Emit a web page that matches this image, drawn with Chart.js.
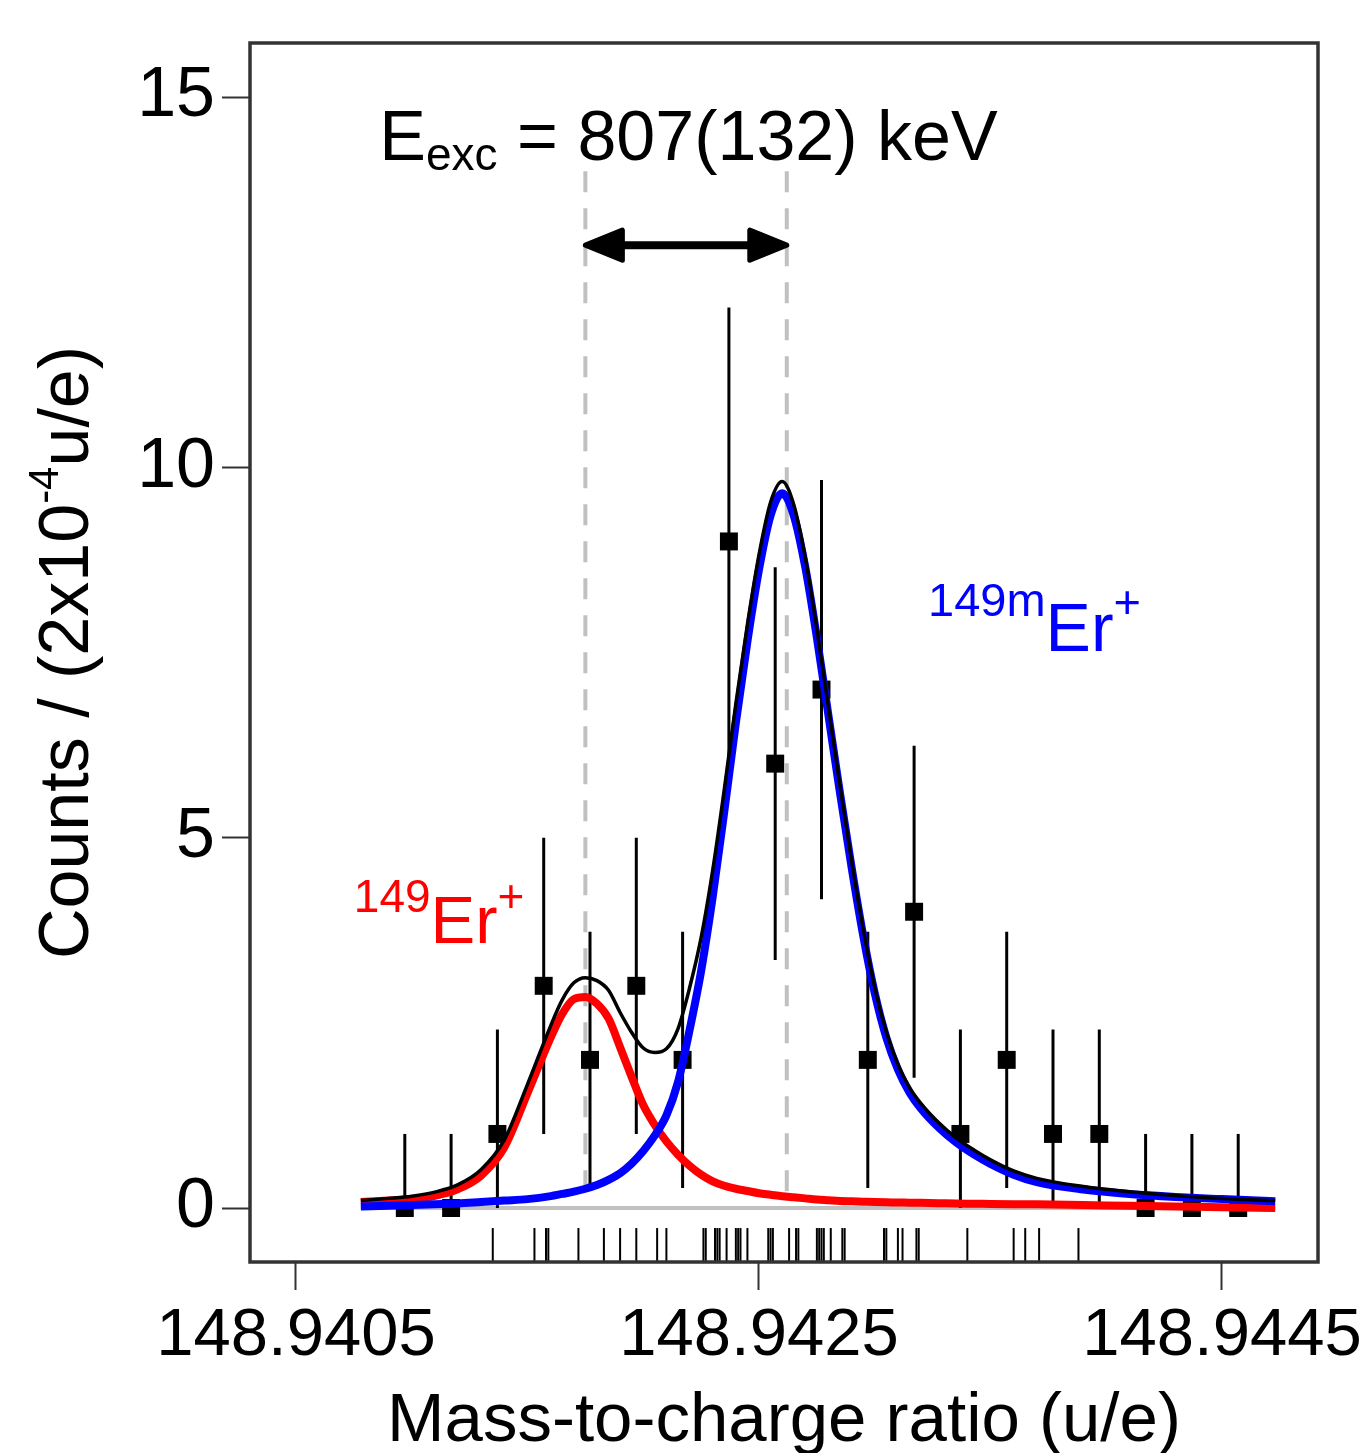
<!DOCTYPE html>
<html>
<head>
<meta charset="utf-8">
<title>149Er+ / 149mEr+</title>
<script src="https://cdn.jsdelivr.net/npm/chart.js@4.4.1/dist/chart.umd.min.js"></script>
<style>
  html, body { margin: 0; padding: 0; background: #fff; }
  #espectro { display: block; }
</style>
</head>
<body>
<canvas id="espectro" width="1371" height="1453"></canvas>
<script>
// --- axis ticks ---
const xTicks = [148.9405, 148.9425, 148.9445];
const yTicks = [0, 5, 10, 15];

// --- histogram (2x10^-4 u/e bins) ---
const binCenters = [148.94097, 148.94117, 148.94137, 148.94157, 148.94177, 148.94197, 148.94217,
                    148.94237, 148.94257, 148.94277, 148.94297, 148.94317, 148.94337, 148.94357,
                    148.94377, 148.94397, 148.94417, 148.94437, 148.94457];
const counts  = [0, 0, 1, 3, 2, 3, 2, 9, 6, 7, 2, 4, 1, 2, 1, 1, 0, 0, 0];
const errUp   = [1, 1, 1.41, 2, 1.73, 2, 1.73, 3.16, 2.65, 2.83, 1.73, 2.24, 1.41, 1.73, 1.41, 1.41, 1, 1, 1];
const errDown = [0, 0, 1, 2, 1.73, 2, 1.73, 3.16, 2.65, 2.83, 1.73, 2.24, 1, 1.73, 1, 1, 0, 0, 0];

// --- fit curves ---
const fitX = [148.94078, 148.94090, 148.94100, 148.94110, 148.94120, 148.94130, 148.94140, 148.94150,
              148.94160, 148.94165, 148.94170, 148.94175, 148.94180, 148.94185, 148.94190, 148.94195,
              148.94200, 148.94205, 148.94210, 148.94215, 148.94220, 148.94225, 148.94230, 148.94235,
              148.94240, 148.94245, 148.94250, 148.94255, 148.94260, 148.94265, 148.94270, 148.94275,
              148.94280, 148.94285, 148.94290, 148.94295, 148.94300, 148.94305, 148.94310, 148.94315,
              148.94320, 148.94328, 148.94335, 148.94343, 148.94350, 148.94360, 148.94370, 148.94390,
              148.94410, 148.94430, 148.94450, 148.94473];
const fitGround = [0.08, 0.10, 0.12, 0.165, 0.255, 0.44, 0.82, 1.55,
                   2.30, 2.62, 2.82, 2.85, 2.76, 2.56, 2.17, 1.77,
                   1.39, 1.12, 0.90, 0.72, 0.57, 0.45, 0.36, 0.30,
                   0.26, 0.23, 0.20, 0.18, 0.16, 0.145, 0.13, 0.115,
                   0.105, 0.095, 0.09, 0.085, 0.08, 0.077, 0.075, 0.072,
                   0.07, 0.065, 0.06, 0.058, 0.055, 0.052, 0.05, 0.04,
                   0.03, 0.02, 0.01, 0.0];
const fitIsomer = [0.02, 0.03, 0.04, 0.05, 0.06, 0.08, 0.10, 0.12,
                   0.16, 0.19, 0.22, 0.26, 0.31, 0.38, 0.47, 0.60,
                   0.77, 0.98, 1.25, 1.70, 2.40, 3.20, 4.20, 5.35,
                   6.55, 7.65, 8.62, 9.35, 9.65, 9.35, 8.65, 7.70,
                   6.65, 5.60, 4.60, 3.68, 2.90, 2.30, 1.87, 1.56,
                   1.34, 1.075, 0.89, 0.72, 0.595, 0.45, 0.35, 0.25,
                   0.19, 0.15, 0.12, 0.09];
const fitTotal = [0.10, 0.13, 0.16, 0.215, 0.315, 0.52, 0.92, 1.67,
                  2.46, 2.81, 3.04, 3.11, 3.07, 2.94, 2.64, 2.37,
                  2.16, 2.10, 2.15, 2.42, 2.97, 3.65, 4.56, 5.65,
                  6.81, 7.88, 8.82, 9.53, 9.81, 9.50, 8.78, 7.82,
                  6.76, 5.70, 4.69, 3.77, 2.98, 2.38, 1.94, 1.63,
                  1.41, 1.14, 0.95, 0.78, 0.65, 0.50, 0.40, 0.29,
                  0.22, 0.17, 0.13, 0.10];

// --- single ion events (rug under the histogram) ---
const ionHits = [148.94135, 148.94153, 148.94158, 148.94159, 148.94172, 148.94183, 148.94190, 148.94197,
                 148.94206, 148.94210, 148.94226, 148.94227, 148.94231, 148.94232, 148.94233, 148.94236,
                 148.94240, 148.94241, 148.94242, 148.94245, 148.94254, 148.94255, 148.94256, 148.94263,
                 148.94266, 148.94267, 148.94275, 148.94276, 148.94277, 148.94278, 148.94281, 148.94286,
                 148.94287, 148.94304, 148.94305, 148.94310, 148.94312, 148.94318, 148.94319, 148.94340,
                 148.94360, 148.94365, 148.94371, 148.94388];

// --- centroids of both states ---
const centroids = [148.94175, 148.94262];
const centroidTop = 14;
const arrowLevel = 13;
const rugLevel = -0.5;

const FONT = '"Liberation Sans", Arial, Helvetica, sans-serif';

function pts(xs, ys) {
    return xs.map((v, i) => ({ x: v, y: ys[i] }));
}

// desenha pedaços de texto em sequência (para sobrescritos/subscritos)
function drawPieces(ctx, x0, y0, pieces) {
    let cx = x0;
    pieces.forEach(p => {
        ctx.font = `${p.size}px ${FONT}`;
        ctx.fillStyle = p.color || '#000';
        ctx.fillText(p.text, cx, y0 + (p.dy || 0));
        cx += ctx.measureText(p.text).width;
    });
}

function piecesWidth(ctx, pieces) {
    let w = 0;
    pieces.forEach(p => {
        ctx.font = `${p.size}px ${FONT}`;
        w += ctx.measureText(p.text).width;
    });
    return w;
}

function arrowHead(ctx, tipX, yy, dir) {
    const len = 37, half = 15;
    ctx.beginPath();
    ctx.moveTo(tipX, yy);
    ctx.lineTo(tipX + dir * len, yy - half);
    ctx.lineTo(tipX + dir * len, yy + half);
    ctx.closePath();
    ctx.fill();
    ctx.stroke();
}

const extras = {
    id: 'extras',
    beforeDatasetDraw(chart, args) {
        if (args.index !== 3) return;
        // barras de erro por baixo dos quadrados
        const { ctx, scales: { x, y } } = chart;
        ctx.save();
        ctx.strokeStyle = '#000';
        ctx.lineWidth = 3;
        binCenters.forEach((m, i) => {
            const px = x.getPixelForValue(m);
            ctx.beginPath();
            ctx.moveTo(px, y.getPixelForValue(counts[i] + errUp[i]));
            ctx.lineTo(px, y.getPixelForValue(counts[i] - errDown[i]));
            ctx.stroke();
        });
        ctx.restore();
    },
    afterDatasetsDraw(chart) {
        const { ctx, scales: { x, y } } = chart;
        ctx.save();

        // seta dupla entre os centroides
        const ax1 = x.getPixelForValue(centroids[0]);
        const ax2 = x.getPixelForValue(centroids[1]);
        const ay = y.getPixelForValue(arrowLevel);
        ctx.strokeStyle = '#000';
        ctx.fillStyle = '#000';
        ctx.lineWidth = 8;
        ctx.beginPath();
        ctx.moveTo(ax1 + 30, ay);
        ctx.lineTo(ax2 - 30, ay);
        ctx.stroke();
        ctx.lineWidth = 5;
        ctx.lineJoin = 'round';
        arrowHead(ctx, ax1, ay, 1);
        arrowHead(ctx, ax2, ay, -1);

        ctx.textBaseline = 'alphabetic';
        ctx.textAlign = 'left';

        // E_exc
        drawPieces(ctx, x.getPixelForValue(148.94086), y.getPixelForValue(14.15), [
            { text: 'E', size: 70 },
            { text: 'exc', size: 46, dy: 10 },
            { text: ' = 807(132) keV', size: 70 }
        ]);

        // rótulos dos estados
        drawPieces(ctx, x.getPixelForValue(148.94075), y.getPixelForValue(4.0), [
            { text: '149', size: 46, color: '#ff0000' },
            { text: 'Er', size: 67, dy: 31, color: '#ff0000' },
            { text: '+', size: 46, dy: 0, color: '#ff0000' }
        ]);
        drawPieces(ctx, x.getPixelForValue(148.94323), y.getPixelForValue(8.0), [
            { text: '149m', size: 47, color: '#0000ff' },
            { text: 'Er', size: 68, dy: 35, color: '#0000ff' },
            { text: '+', size: 47, dy: 2, color: '#0000ff' }
        ]);
        ctx.restore();
    },
    afterDraw(chart) {
        const { ctx, chartArea: a } = chart;
        ctx.save();
        // moldura
        ctx.strokeStyle = '#333';
        ctx.lineWidth = 3.5;
        ctx.strokeRect(a.left, a.top, a.right - a.left, a.bottom - a.top);

        // título do eixo x
        ctx.fillStyle = '#000';
        ctx.font = `69px ${FONT}`;
        ctx.textAlign = 'center';
        ctx.textBaseline = 'alphabetic';
        ctx.fillText('Mass-to-charge ratio (u/e)', (a.left + a.right) / 2, a.bottom + 179);

        // título do eixo y (girado)
        const yTitle = [
            { text: 'Counts / (2x10', size: 70 },
            { text: '-4', size: 42, dy: -30 },
            { text: 'u/e)', size: 70 }
        ];
        ctx.textAlign = 'left';
        ctx.translate(a.left - 162, (a.top + a.bottom) / 2);
        ctx.rotate(-Math.PI / 2);
        drawPieces(ctx, -piecesWidth(ctx, yTitle) / 2, 0, yTitle);
        ctx.restore();
    }
};

document.addEventListener('DOMContentLoaded', () => {
    const canvas = document.getElementById('espectro');

    new Chart(canvas, {
        type: 'scatter',
        data: {
            datasets: [
                {
                    label: 'total',
                    data: pts(fitX, fitTotal),
                    showLine: true,
                    borderColor: '#000',
                    borderWidth: 3.5,
                    pointRadius: 0,
                    cubicInterpolationMode: 'monotone'
                },
                {
                    label: '149mEr+',
                    data: pts(fitX, fitIsomer),
                    showLine: true,
                    borderColor: '#0000ff',
                    borderWidth: 8,
                    pointRadius: 0,
                    cubicInterpolationMode: 'monotone'
                },
                {
                    label: '149Er+',
                    data: pts(fitX, fitGround),
                    showLine: true,
                    borderColor: '#ff0000',
                    borderWidth: 8,
                    pointRadius: 0,
                    cubicInterpolationMode: 'monotone'
                },
                {
                    label: 'counts',
                    data: pts(binCenters, counts),
                    pointStyle: 'rect',
                    pointRadius: 12.7,
                    backgroundColor: '#000',
                    borderWidth: 0
                },
                {
                    label: 'ions',
                    data: ionHits.map(m => ({ x: m, y: rugLevel })),
                    pointStyle: 'line',
                    rotation: 90,
                    pointRadius: 17,
                    borderColor: '#000',
                    borderWidth: 2
                },
                {
                    label: 'zero',
                    data: [{ x: fitX[0], y: 0 }, { x: fitX[fitX.length - 1], y: 0 }],
                    showLine: true,
                    borderColor: '#c0c0c0',
                    borderWidth: 4,
                    pointRadius: 0
                },
                {
                    label: 'centroid 1',
                    data: [{ x: centroids[0], y: centroidTop }, { x: centroids[0], y: 0 }],
                    showLine: true,
                    borderColor: '#c0c0c0',
                    borderWidth: 4,
                    borderDash: [21, 16],
                    pointRadius: 0
                },
                {
                    label: 'centroid 2',
                    data: [{ x: centroids[1], y: centroidTop }, { x: centroids[1], y: 0 }],
                    showLine: true,
                    borderColor: '#c0c0c0',
                    borderWidth: 4,
                    borderDash: [21, 16],
                    pointRadius: 0
                }
            ]
        },
        options: {
            responsive: false,
            animation: false,
            events: [],
            layout: { padding: { top: 43, right: 53, left: 0, bottom: 0 } },
            plugins: {
                legend: { display: false },
                tooltip: { enabled: false }
            },
            scales: {
                x: {
                    type: 'linear',
                    min: 148.9403013,
                    max: 148.9449147,
                    afterBuildTicks: axis => { axis.ticks = xTicks.map(v => ({ value: v })); },
                    afterFit: axis => {
                        axis.height = 191;
                        axis.paddingLeft = 0;
                        axis.paddingRight = 0;
                    },
                    ticks: {
                        callback: v => v.toFixed(4),
                        font: { size: 67, family: FONT },
                        color: '#000',
                        padding: 6,
                        maxRotation: 0,
                        minRotation: 0,
                        autoSkip: false
                    },
                    grid: { drawOnChartArea: false, drawTicks: true, tickLength: 28, tickWidth: 2, tickColor: '#333' },
                    border: { display: false }
                },
                y: {
                    type: 'linear',
                    min: -0.729,
                    max: 15.73,
                    afterBuildTicks: axis => { axis.ticks = yTicks.map(v => ({ value: v })); },
                    afterFit: axis => {
                        axis.width = 250;
                        axis.paddingTop = 0;
                        axis.paddingBottom = 0;
                    },
                    ticks: {
                        callback: v => String(v),
                        font: { size: 70, family: FONT },
                        color: '#000',
                        padding: 7
                    },
                    grid: { drawOnChartArea: false, drawTicks: true, tickLength: 28, tickWidth: 2, tickColor: '#333' },
                    border: { display: false }
                }
            }
        },
        plugins: [extras]
    });
});
</script>
</body>
</html>
